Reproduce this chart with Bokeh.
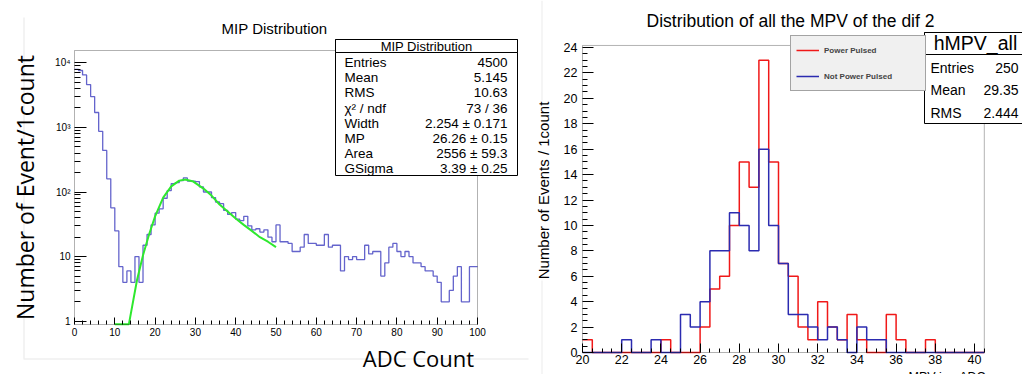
import math
from bokeh.plotting import figure
from bokeh.layouts import row
from bokeh.models import Range1d, FixedTicker, Label, BoxAnnotation, Legend, LegendItem
from bokeh.embed import file_html
from bokeh.resources import INLINE

HELV = "Liberation Sans"
SLIDE = "Open Sans"

# ---------------- Left panel data : MIP Distribution ----------------
adc_bin_low = 0.0
adc_bin_width = 1.0
adc_counts = [
    7900, 7600, 6500, 4600, 3000, 1700, 870, 440, 160, 57,
    25, 7, 4, 6, 4, 10, 4, 15, 22, 31,
    47, 55, 80, 105, 135, 140, 150, 165, 148, 147,
    145, 120, 100, 100, 82, 70, 66, 52, 45, 48,
    38, 36, 42, 30, 26, 27, 24, 26, 20, 17,
    31, 17, 17, 16, 12, 12, 14, 22, 16, 16,
    15, 15, 22, 14, 15, 15, 6, 10, 9, 10,
    9, 9, 15, 11, 12, 12, 5, 8, 14, 16,
    12, 10, 12, 10, 8, 8, 7, 6, 6, 5,
    4, 2, 2, 3, 5, 7, 2, 2, 7, 7,
]
fit_x = [10, 13.5, 15.5, 17, 18.5, 20, 22, 24, 26, 27.5, 29.5, 32, 34, 36, 38, 40, 42, 44, 46, 48, 50]
fit_y = [0.9, 0.9, 4.3, 10.5, 22, 42, 82, 122, 150, 156, 145, 113, 88, 64, 50, 39, 31, 25, 20, 17, 14]
left_title = "MIP Distribution"
left_stat_names = ["Entries", "Mean", "RMS", "\u03c7\u00b2 / ndf", "Width", "MP", "Area", "GSigma"]
left_stat_values = ["4500", "5.145", "10.63", "73 / 36", "2.254 \u00b1 0.171",
                    "26.26 \u00b1 0.15", "2556 \u00b1 59.3", "3.39 \u00b1 0.25"]
left_xticks = list(range(0, 101, 10))
left_yticks = [1, 10, 100, 1000, 10000]
left_ytick_labels = ["1", "10", "10\u00b2", "10\u00b3", "10\u2074"]
left_xlim = (0, 100)
left_ylim = (0.89, 15500)

# ---------------- Right panel data : MPV distribution ----------------
mpv_bin_low = 20.0
mpv_bin_width = 0.5
power_pulsed = [1, 0, 0, 0, 0, 0, 0, 0, 1, 0,
                0, 0, 2, 5, 6, 10, 15, 13, 23, 15,
                7, 6, 2, 1, 4, 2, 1, 3, 1, 0,
                0, 3, 1, 0, 0, 1, 0, 0, 0, 0, 0]
not_power_pulsed = [0, 0, 0, 0, 1, 0, 0, 1, 0, 0,
                    3, 2, 4, 8, 8, 11, 10, 8, 16, 10,
                    7, 3, 3, 2, 1, 2, 1, 0, 2, 1,
                    1, 0, 0, 0, 0, 0, 0, 0, 0, 0, 0]
right_title = "Distribution of all the MPV of the dif 2"
right_stat_names = ["Entries", "Mean", "RMS"]
right_stat_values = ["250", "29.35", "2.444"]
right_xticks = list(range(20, 41, 2))
right_yticks = list(range(0, 25, 2))
right_xlim = (20, 40.5)
right_ylim = (0, 24.16)

# ---------------- layout (pixels) ----------------
H = 374
LW, RW = 530, 492
# left ROOT frame on the canvas
L_FL, L_FR, L_FT, L_FB = 74, 477, 50, 324
# right ROOT frame on the canvas (x=40 tick at 974)
R_FL, R_X40, R_FT, R_FB, R_Y24 = 52, 444, 45, 352, 47


def step_path(lo, w, counts):
    xs, ys = [], []
    for i, c in enumerate(counts):
        x0 = lo + i * w
        xs += [x0, x0 + w]
        ys += [c, c]
    return xs, ys


def frange(a, b, s):
    out, v = [], a
    while v <= b + 1e-9:
        out.append(round(v, 4))
        v += s
    return out


def style_axis(ax, font_size, maj_in, min_in, standoff, loc):
    ax.fixed_location = loc
    ax.axis_line_color = None
    ax.major_tick_in = maj_in
    ax.major_tick_out = 0
    ax.minor_tick_in = min_in
    ax.minor_tick_out = 0
    ax.major_tick_line_color = "black"
    ax.minor_tick_line_color = "black"
    ax.major_label_text_font = HELV
    ax.major_label_text_font_size = font_size
    ax.major_label_text_color = "black"
    ax.major_label_standoff = standoff


def slabel(p, x, y, text, size, align="left", font=HELV, style="normal", angle=0.0,
           color="black", bg=None):
    # x, y: canvas pixels from the top-left corner, y = vertical middle of the text
    p.add_layout(Label(x=x, y=H - y, x_units="screen", y_units="screen", text=text,
                       text_font=font, text_font_size=size, text_align=align,
                       text_baseline="middle", text_font_style=style, angle=angle,
                       text_color=color, background_fill_color=bg))


def sbox(p, l, r, t, b, fill="white", line="black", lw=1.0):
    # canvas pixels from the top-left corner
    p.add_layout(BoxAnnotation(left=l, right=r, top=H - t, bottom=H - b,
                               left_units="screen", right_units="screen",
                               top_units="screen", bottom_units="screen",
                               fill_color=fill, fill_alpha=1.0 if fill else 0.0,
                               line_color=line, line_width=lw, line_alpha=1.0))


def new_fig(w, xr, yr, ytype="linear"):
    p = figure(width=w, height=H, x_range=Range1d(*xr), y_range=Range1d(*yr),
               y_axis_type=ytype, output_backend="svg", toolbar_location=None,
               min_border=0, min_border_left=0, min_border_right=0,
               min_border_top=0, min_border_bottom=0)
    p.grid.visible = False
    p.outline_line_color = None
    p.background_fill_color = "white"
    p.border_fill_color = "white"
    return p


# ---------------- Left figure ----------------
lxs = (L_FR - L_FL) / (left_xlim[1] - left_xlim[0])
lx_range = (left_xlim[0] - L_FL / lxs, left_xlim[0] + (LW - L_FL) / lxs)
lt, lb = math.log10(left_ylim[1]), math.log10(left_ylim[0])
ppd = (L_FB - L_FT) / (lt - lb)
ly_range = (10 ** (lb - (H - L_FB) / ppd), 10 ** (lt + L_FT / ppd))
L = new_fig(LW, lx_range, ly_range, "log")

# faint slide decoration lines
sbox(L, 23, 24, 17, 358, fill="#e8e8e8", line=None)
sbox(L, 23, 528, 358, 359, fill="#e8e8e8", line=None)

xa = L.xaxis[0]
xa.ticker = FixedTicker(ticks=left_xticks, minor_ticks=[v for v in range(0, 101, 2) if v % 10])
style_axis(xa, "10px", 7, 4, 3, left_ylim[0])
ya = L.yaxis[0]
minor_log = [m * d for d in (1, 10, 100, 1000) for m in range(2, 10)]
ya.ticker = FixedTicker(ticks=left_yticks, minor_ticks=minor_log)
ya.major_label_overrides = {t: s for t, s in zip(left_yticks, left_ytick_labels)}
style_axis(ya, "10px", 12, 6, 4, left_xlim[0])

hx, hy = step_path(adc_bin_low, adc_bin_width, adc_counts)
L.line(hx, hy, line_color="#6464cc", line_width=1.3)
L.line(fit_x, fit_y, line_color="#2ee82e", line_width=2)

# ROOT frame
L.add_layout(BoxAnnotation(left=left_xlim[0], right=left_xlim[1], bottom=left_ylim[0],
                           top=left_ylim[1], fill_alpha=0.0, line_color="black",
                           line_width=1.0))

slabel(L, 274, 28, left_title, "15px", align="center")
slabel(L, 24, 187, "Number of Event/1count", "23px", align="center",
       font=SLIDE, angle=math.pi / 2)
slabel(L, 418, 357, "ADC Count", "22px", align="center", font=SLIDE)

# stats box
sbox(L, 335, 517, 39, 175)
sbox(L, 335, 517, 39, 52)
slabel(L, 426, 46, left_title, "13px", align="center")
for i, (n, v) in enumerate(zip(left_stat_names, left_stat_values)):
    yc = 62 + 15.2 * i
    slabel(L, 344, yc, n, "13.5px")
    slabel(L, 507, yc, v, "13.5px", align="right")

# ---------------- Right figure ----------------
rxs = (R_X40 - R_FL) / (40 - right_xlim[0])
rx_range = (right_xlim[0] - R_FL / rxs, right_xlim[0] + (RW - R_FL) / rxs)
rys = (R_FB - R_Y24) / 24.0
ry_range = (-(H - R_FB) / rys, R_FB / rys)
R = new_fig(RW, rx_range, ry_range)

# faint slide edge
sbox(R, 11, 12, 0, 100, fill="#ececec", line=None)
sbox(R, 11, 12, 280, 374, fill="#ececec", line=None)

rx = R.xaxis[0]
rx.ticker = FixedTicker(ticks=right_xticks, minor_ticks=[v for v in frange(20, 40.5, 0.5) if v % 2])
style_axis(rx, "12.5px", 9, 4, 2, right_ylim[0])
ry = R.yaxis[0]
ry.ticker = FixedTicker(ticks=right_yticks, minor_ticks=[v for v in frange(0, 24, 0.5) if v % 2])
style_axis(ry, "12.5px", 11, 5, 5, right_xlim[0])

px_, py_ = step_path(mpv_bin_low, mpv_bin_width, power_pulsed)
nx_, ny_ = step_path(mpv_bin_low, mpv_bin_width, not_power_pulsed)
r_red = R.line(px_, py_, line_color="#f01818", line_width=1.5)
r_blue = R.line(nx_, ny_, line_color="#2b2bb0", line_width=1.5)

R.add_layout(BoxAnnotation(left=right_xlim[0], right=right_xlim[1], bottom=right_ylim[0],
                           top=right_ylim[1], fill_alpha=0.0, line_color="black",
                           line_width=1.0))

legend = Legend(items=[LegendItem(label="Power Pulsed", renderers=[r_red]),
                       LegendItem(label="Not Power Pulsed", renderers=[r_blue])],
                location=(790 - 530, H - 91), orientation="vertical", margin=0, padding=5,
                spacing=8, glyph_width=23, glyph_height=18, label_height=18, label_width=96,
                label_standoff=5, label_text_font=HELV, label_text_font_size="8px",
                label_text_font_style="bold", background_fill_color="#f0f0f0",
                background_fill_alpha=1.0, border_line_color="#555555", border_line_width=1.5)
R.add_layout(legend)

slabel(R, 260, 20, right_title, "17.5px", align="center")
slabel(R, 13, 190, "Number of Events / 1count", "15px", align="center",
       angle=math.pi / 2)

# stats box (runs off the right edge)
sbox(R, 394, 520, 32, 123)
sbox(R, 394, 520, 32, 54)
slabel(R, 445, 42, "hMPV_all", "19.5px", align="center")
for i, (n, v) in enumerate(zip(right_stat_names, right_stat_values)):
    yc = 67.5 + 22.3 * i
    slabel(R, 400, yc, n, "14px")
    slabel(R, 488, yc, v, "14px", align="right")

slabel(R, 378, 376, "MPV in uADC", "12.5px")

page = row(L, R)
open("out.html", "w").write(file_html(page, INLINE))
